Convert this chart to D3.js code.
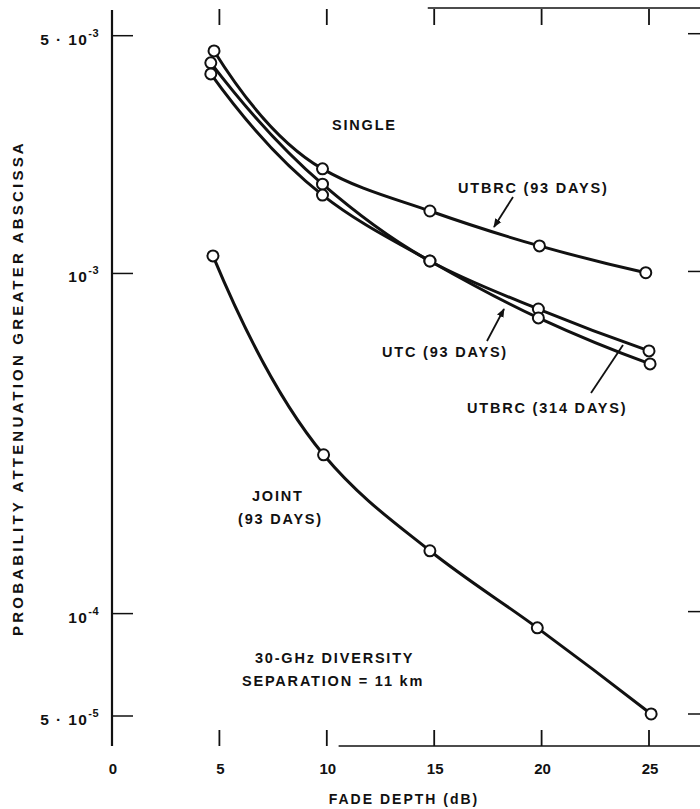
<!DOCTYPE html>
<html>
<head>
<meta charset="utf-8">
<script src="https://cdn.jsdelivr.net/npm/d3@7/dist/d3.min.js"></script>
<style>
  body { margin: 0; background: #fff; }
  svg text { font-family: "Liberation Sans", Arial, Helvetica, sans-serif; font-weight: bold; fill: #111; }
</style>
</head>
<body>
<svg id="chart" width="700" height="809"></svg>
<script>
// fade depth (dB) and probability values
var utbrc93X = [4.75, 9.8, 14.8, 19.9, 24.85];
var utbrc93Y = [4.51e-3, 2.03e-3, 1.526e-3, 1.205e-3, 1.005e-3];

var utbrc314X = [4.6, 9.8, 14.8, 19.85, 25.0];
var utbrc314Y = [4.16e-3, 1.83e-3, 1.088e-3, 7.86e-4, 5.92e-4];

var utc93X = [4.6, 9.8, 14.8, 19.85, 25.05];
var utc93Y = [3.86e-3, 1.70e-3, 1.088e-3, 7.40e-4, 5.42e-4];

var jointX = [4.7, 9.85, 14.8, 19.8, 25.1];
var jointY = [1.126e-3, 2.93e-4, 1.53e-4, 9.08e-5, 5.07e-5];

var xTicks = [0, 5, 10, 15, 20, 25];
var yTicks = [5e-3, 1e-3, 1e-4, 5e-5];
var yTickMant = ["5 \u00b7 10", "10", "10", "5 \u00b7 10"];
var yTickExp = ["-3", "-3", "-4", "-5"];

var svg = d3.select("#chart");

var xScale = d3.scaleLinear().domain([0, 25]).range([112, 649]);
var yScale = d3.scaleLog().domain([5e-3, 5e-5]).range([35.7, 716]);

var yTop = yScale.invert(8), yBot = yScale.invert(746);

// hand drawn look: hermite spline, harmonic tangents, parabolic ends
function draftCurve(context) {
    var xs, ys;
    return {
        areaStart: function () {}, areaEnd: function () {},
        lineStart: function () { xs = []; ys = []; },
        point: function (x, y) { xs.push(+x); ys.push(+y); },
        lineEnd: function () {
            var n = xs.length, h = [], s = [], m = [];
            for (var i = 0; i < n - 1; i++) {
                h.push(xs[i + 1] - xs[i]);
                s.push((ys[i + 1] - ys[i]) / h[i]);
            }
            for (var i = 1; i < n - 1; i++) {
                if (s[i - 1] * s[i] <= 0) m[i] = 0;
                else m[i] = 3 * (h[i - 1] + h[i]) / ((2 * h[i] + h[i - 1]) / s[i - 1] + (h[i] + 2 * h[i - 1]) / s[i]);
            }
            m[0] = 2 * s[0] - m[1];
            m[n - 1] = 2 * s[n - 2] - m[n - 2];
            context.moveTo(xs[0], ys[0]);
            for (var i = 0; i < n - 1; i++) {
                var d = h[i] / 3;
                context.bezierCurveTo(xs[i] + d, ys[i] + m[i] * d,
                    xs[i + 1] - d, ys[i + 1] - m[i + 1] * d,
                    xs[i + 1], ys[i + 1]);
            }
        }
    };
}

// frame pieces that survive in the scan
svg.append("line")
    .attr("x1", xScale(0)).attr("x2", xScale(0))
    .attr("y1", yScale(yTop) + 2).attr("y2", yScale(yBot))
    .style("stroke", "#111").style("stroke-width", 2.2);
svg.append("line")
    .attr("x1", xScale(14.7)).attr("x2", 700)
    .attr("y1", yScale(yTop)).attr("y2", yScale(yTop))
    .style("stroke", "#111").style("stroke-width", 1.5);
svg.append("line")
    .attr("x1", xScale(10.55)).attr("x2", 700)
    .attr("y1", yScale(yBot)).attr("y2", yScale(yBot))
    .style("stroke", "#111").style("stroke-width", 1.5);

// x ticks, top and bottom, pointing inward
var xt = xTicks.filter(function (d) { return d > 0; });
svg.selectAll(".xtop").data(xt).enter().append("line")
    .attr("x1", function (d) { return xScale(d); })
    .attr("x2", function (d) { return xScale(d); })
    .attr("y1", 9).attr("y2", 25)
    .style("stroke", "#111").style("stroke-width", 1.8);
svg.selectAll(".xbot").data(xt).enter().append("line")
    .attr("x1", function (d) { return xScale(d); })
    .attr("x2", function (d) { return xScale(d); })
    .attr("y1", 730).attr("y2", 746)
    .style("stroke", "#111").style("stroke-width", 1.8);

svg.selectAll(".xlab").data(xTicks).enter().append("text")
    .attr("x", function (d) { return xScale(d) + 1; })
    .attr("y", 774)
    .attr("text-anchor", "middle")
    .style("font-size", "15px")
    .text(function (d) { return d; });

// y ticks left (inward) and right
svg.selectAll(".yl").data(yTicks).enter().append("line")
    .attr("x1", 112).attr("x2", 133)
    .attr("y1", function (d) { return yScale(d); })
    .attr("y2", function (d) { return yScale(d); })
    .style("stroke", "#111").style("stroke-width", 1.5);
svg.selectAll(".yr").data(yTicks).enter().append("line")
    .attr("x1", 688).attr("x2", 700)
    .attr("y1", function (d) { return yScale(d) - 2; })
    .attr("y2", function (d) { return yScale(d) - 2; })
    .style("stroke", "#111").style("stroke-width", 1.5);

var ylab = svg.selectAll(".ylab").data(yTicks).enter().append("text")
    .attr("x", 99)
    .attr("y", function (d) { return yScale(d) + 9; })
    .attr("text-anchor", "end")
    .style("font-size", "15.5px")
    .style("letter-spacing", "1.4px");
ylab.append("tspan").text(function (d, i) { return yTickMant[i]; });
ylab.append("tspan")
    .attr("dy", -8)
    .style("font-size", "11px")
    .style("letter-spacing", "0.5px")
    .text(function (d, i) { return yTickExp[i]; });

// axis titles
svg.append("text")
    .attr("x", 404).attr("y", 804)
    .attr("text-anchor", "middle")
    .style("font-size", "14px").style("letter-spacing", "2px")
    .text("FADE DEPTH (dB)");
svg.append("text")
    .attr("transform", "translate(23,388) rotate(-90)")
    .attr("text-anchor", "middle")
    .style("font-size", "15px").style("letter-spacing", "3.2px")
    .text("PROBABILITY ATTENUATION GREATER ABSCISSA");

// curves
var series = [
    {x: utbrc93X, y: utbrc93Y},
    {x: utbrc314X, y: utbrc314Y},
    {x: utc93X, y: utc93Y},
    {x: jointX, y: jointY}
];

var line = d3.line()
    .x(function (d) { return xScale(d[0]); })
    .y(function (d) { return yScale(d[1]); })
    .curve(draftCurve);

for (var i = 0; i < series.length; i++) {
    var pts = series[i].x.map(function (v, j) { return [v, series[i].y[j]]; });
    svg.append("path")
        .attr("d", line(pts))
        .style("fill", "none")
        .style("stroke", "#111")
        .style("stroke-width", 3);
}
for (var i = 0; i < series.length; i++) {
    var pts = series[i].x.map(function (v, j) { return [v, series[i].y[j]]; });
    svg.selectAll(".pt" + i).data(pts).enter().append("circle")
        .attr("cx", function (d) { return xScale(d[0]); })
        .attr("cy", function (d) { return yScale(d[1]); })
        .attr("r", 5.5)
        .style("fill", "#fff")
        .style("stroke", "#111")
        .style("stroke-width", 2);
}

// labels and pointers
svg.append("defs").append("marker")
    .attr("id", "head")
    .attr("viewBox", "0 0 10 10")
    .attr("refX", 9).attr("refY", 5)
    .attr("markerWidth", 5).attr("markerHeight", 5)
    .attr("orient", "auto")
    .append("path").attr("d", "M0,1 L10,5 L0,9 Z").style("fill", "#111");

function note(txt, x, y) {
    svg.append("text").attr("x", x).attr("y", y)
        .style("font-size", "14.5px").style("letter-spacing", "1.8px")
        .text(txt);
}
note("SINGLE", 332, 130);
note("UTBRC (93 DAYS)", 458, 193);
note("UTC (93 DAYS)", 382, 357);
note("UTBRC (314 DAYS)", 467, 413);
note("JOINT", 252, 501);
note("(93 DAYS)", 238, 524);
note("30-GHz DIVERSITY", 255, 663);
note("SEPARATION = 11 km", 242, 686);

function pointer(x1, y1, x2, y2, head) {
    var p = svg.append("line")
        .attr("x1", x1).attr("y1", y1).attr("x2", x2).attr("y2", y2)
        .style("stroke", "#111").style("stroke-width", 1.8);
    if (head) p.attr("marker-end", "url(#head)");
}
pointer(513, 197, 494, 227, true);
pointer(487, 341, 504, 309, true);
pointer(591, 393, 623, 345, false);
</script>
</body>
</html>
